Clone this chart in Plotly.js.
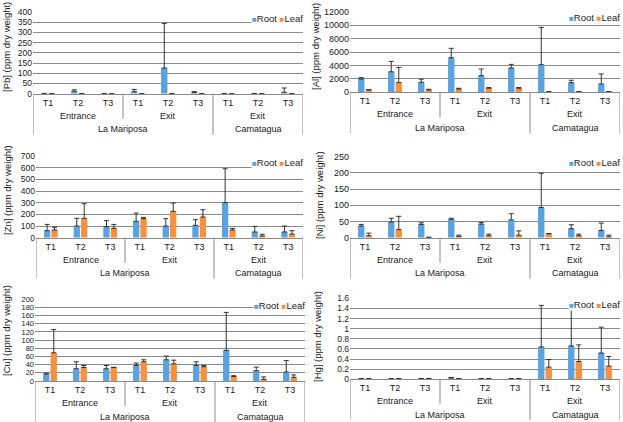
<!DOCTYPE html>
<html>
<head>
<meta charset="utf-8">
<script src="https://cdn.plot.ly/plotly-3.0.1.min.js"></script>
<style>
  html, body { margin: 0; padding: 0; background: #fff; }
  #chart { width: 623px; height: 422px; }
</style>
</head>
<body>
<div id="chart"></div>
<script>
// categories
var treatments = ['T1', 'T2', 'T3', 'T1', 'T2', 'T3', 'T1', 'T2', 'T3'];
var sites = ['Entrance', 'Exit', 'Exit'];
var places = ['La Mariposa', 'Camatagua'];
var sitesPerPlace = [2, 1];
var series = ['Root', 'Leaf'];

// values (ppm dry weight), error = upper bar length
var pbRoot    = [1, 12, 1, 10, 126, 6, 1, 1, 7];
var pbRootErr = [0.5, 7, 0.5, 11, 218, 4, 0.5, 0.5, 21];
var pbLeaf    = [0.6, 0.8, 0.5, 0.7, 0.9, 0.6, 0.4, 0.5, 0.6];
var pbLeafErr = [0.3, 0.3, 0.3, 0.3, 0.3, 0.3, 0.3, 0.3, 0.3];

var alRoot    = [1990, 3060, 1490, 5150, 2480, 3620, 4110, 1440, 1240];
var alRootErr = [190, 1540, 460, 1400, 990, 540, 5560, 350, 1490];
var alLeaf    = [350, 1440, 350, 500, 600, 600, 80, 80, 80];
var alLeafErr = [50, 2260, 100, 100, 100, 120, 20, 20, 20];

var znRoot    = [60, 100, 94, 140, 100, 106, 300, 49, 49];
var znRootErr = [54, 66, 52, 71, 63, 48, 291, 48, 51];
var znLeaf    = [66, 166, 80, 163, 226, 177, 66, 14, 31];
var znLeafErr = [23, 125, 34, 11, 71, 63, 14, 15, 29];

var niRoot    = [36, 48, 41, 57, 42, 55, 93, 28, 22];
var niRootErr = [5, 12, 5, 3, 5, 19, 106, 12, 23];
var niLeaf    = [6, 25, 1, 4, 6, 8, 12, 6, 3];
var niLeafErr = [8, 41, 0.5, 4, 5, 13, 1, 5, 5];

var cuRoot    = [17, 30, 30, 38, 52, 38, 75, 25, 22];
var cuRootErr = [2, 17, 8, 6, 9, 9, 93, 9, 28];
var cuLeaf    = [69, 33, 33, 47, 42, 35, 11, 4, 9];
var cuLeafErr = [57, 5, 0.5, 5, 9, 3, 2, 6, 6];

var hgRoot    = [0.01, 0.01, 0.01, 0.03, 0.01, 0.01, 0.64, 0.66, 0.52];
var hgRootErr = [0.004, 0.004, 0.004, 0.005, 0.004, 0.004, 0.82, 0.72, 0.51];
var hgLeaf    = [0.01, 0.01, 0.01, 0.01, 0.01, 0.01, 0.24, 0.35, 0.26];
var hgLeafErr = [0.004, 0.004, 0.004, 0.004, 0.004, 0.004, 0.15, 0.33, 0.19];

var W = 623, H = 422;
var colors = ['#5ba3e0', '#f6923f'];
var gridColor = '#8a8a8a';
var textColor = '#1a1a1a';

// plot area of each panel in page pixels: left, right, top, bottom; title centre; tick font
var panels = [
  {metal: 'Pb', d: [pbRoot, pbRootErr, pbLeaf, pbLeafErr], top: 400, dtick: 50, box: [33, 303, 12, 93.7], tx: 7, ty: 47, fs: 8.5},
  {metal: 'Al', d: [alRoot, alRootErr, alLeaf, alLeafErr], top: 12000, dtick: 2000, box: [350, 620, 11.7, 92.3], tx: 316, ty: 47, fs: 9, fmt: 'd'},
  {metal: 'Zn', d: [znRoot, znRootErr, znLeaf, znLeafErr], top: 700, dtick: 100, box: [36, 303, 156, 237.7], tx: 7, ty: 190, fs: 8.5},
  {metal: 'Ni', d: [niRoot, niRootErr, niLeaf, niLeafErr], top: 250, dtick: 50, box: [350, 620, 156.7, 237.7], tx: 319, ty: 195, fs: 9},
  {metal: 'Cu', d: [cuRoot, cuRootErr, cuLeaf, cuLeafErr], top: 200, dtick: 20, box: [35, 305, 299.3, 381], tx: 6, ty: 331, fs: 7.5},
  {metal: 'Hg', d: [hgRoot, hgRootErr, hgLeaf, hgLeafErr], top: 1.6, dtick: 0.2, box: [350, 620, 298.3, 379.3], tx: 317, ty: 337, fs: 8.5}
];

var xIdx = treatments.map(function (t, i) { return i; });
var zeros = treatments.map(function () { return 0; });
var perSite = treatments.length / sites.length;

var traces = [];
var layout = {
  width: W, height: H,
  margin: {l: 0, r: 0, t: 0, b: 0},
  paper_bgcolor: '#fff', plot_bgcolor: '#fff',
  font: {family: 'Liberation Sans, Arial, sans-serif', size: 9, color: textColor},
  barmode: 'group', bargap: 0.5, bargroupgap: 0.15,
  showlegend: false,
  annotations: [], shapes: []
};

panels.forEach(function (p, k) {
  var n = k === 0 ? '' : String(k + 1);
  var xa = 'x' + n, ya = 'y' + n;
  var b = p.box;
  var yBottom = 1 - b[3] / H;

  series.forEach(function (s, j) {
    traces.push({
      type: 'bar', name: s,
      x: xIdx, y: p.d[j * 2],
      xaxis: xa, yaxis: ya,
      marker: {color: colors[j]},
      error_y: {type: 'data', symmetric: false, array: p.d[j * 2 + 1], arrayminus: zeros,
                color: '#333', thickness: 1, width: 2.5},
      hoverinfo: 'y'
    });
  });

  layout['xaxis' + n] = {
    domain: [b[0] / W, b[1] / W], anchor: ya,
    range: [-0.5, treatments.length - 0.5],
    tickmode: 'array', tickvals: xIdx, ticktext: treatments,
    showgrid: false, zeroline: false, showline: true, linecolor: gridColor, linewidth: 1,
    ticks: '', tickfont: {size: 9, color: textColor}, fixedrange: true
  };
  layout['yaxis' + n] = {
    domain: [yBottom, 1 - b[2] / H], anchor: xa,
    range: [0, p.top * 1.0001], tick0: 0, dtick: p.dtick,
    showgrid: true, gridcolor: gridColor, gridwidth: 1,
    zeroline: false, showline: false, ticks: '',
    tickfont: {size: p.fs, color: textColor}, tickformat: p.fmt || '',
    fixedrange: true
  };

  // y-axis title
  layout.annotations.push({
    xref: 'paper', yref: 'paper', x: p.tx / W, y: 1 - p.ty / H,
    xanchor: 'center', yanchor: 'middle', textangle: -90, showarrow: false,
    text: '[' + p.metal + '] (ppm dry weight)', font: {size: 9.5, color: textColor}
  });

  // site labels (Entrance / Exit) and place labels (La Mariposa / Camatagua)
  sites.forEach(function (s, i) {
    layout.annotations.push({
      xref: xa, yref: 'paper', x: i * perSite + (perSite - 1) / 2, y: yBottom,
      yshift: -22, yanchor: 'middle', showarrow: false, text: s, font: {size: 9, color: textColor}
    });
  });
  var start = 0;
  places.forEach(function (pl, i) {
    var cnt = sitesPerPlace[i] * perSite;
    layout.annotations.push({
      xref: xa, yref: 'paper', x: start + (cnt - 1) / 2, y: yBottom,
      yshift: -35.5, yanchor: 'middle', showarrow: false, text: pl, font: {size: 9, color: textColor}
    });
    start += cnt;
  });

  // divider lines under the axis
  var shortDrop = 25 / H, longDrop = 41 / H;
  var siteStart = 0;
  var edges = [{x: -0.5, drop: longDrop}];
  sitesPerPlace.forEach(function (c) {
    for (var q = 1; q <= c; q++) {
      siteStart += perSite;
      edges.push({x: siteStart - 0.5, drop: q === c ? longDrop : shortDrop});
    }
  });
  edges.forEach(function (e) {
    layout.shapes.push({
      type: 'line', xref: xa, yref: 'paper', x0: e.x, x1: e.x,
      y0: yBottom, y1: yBottom - e.drop, line: {color: gridColor, width: 1}
    });
  });

  // compact legend in the top-right corner of each panel
  var legendText = series.map(function (s, j) {
    return '<span style="color:' + colors[j] + ';font-size:8px">■</span>' + s;
  }).join(' ');
  layout.annotations.push({
    xref: 'paper', yref: 'paper', x: (b[1] + 1) / W, y: 1 - (b[2] + 6) / H,
    xanchor: 'right', yanchor: 'middle', showarrow: false, borderpad: 0,
    text: legendText, font: {size: 9.5, color: textColor}, bgcolor: '#fff'
  });
});

Plotly.newPlot('chart', traces, layout, {staticPlot: true});
</script>
</body>
</html>
